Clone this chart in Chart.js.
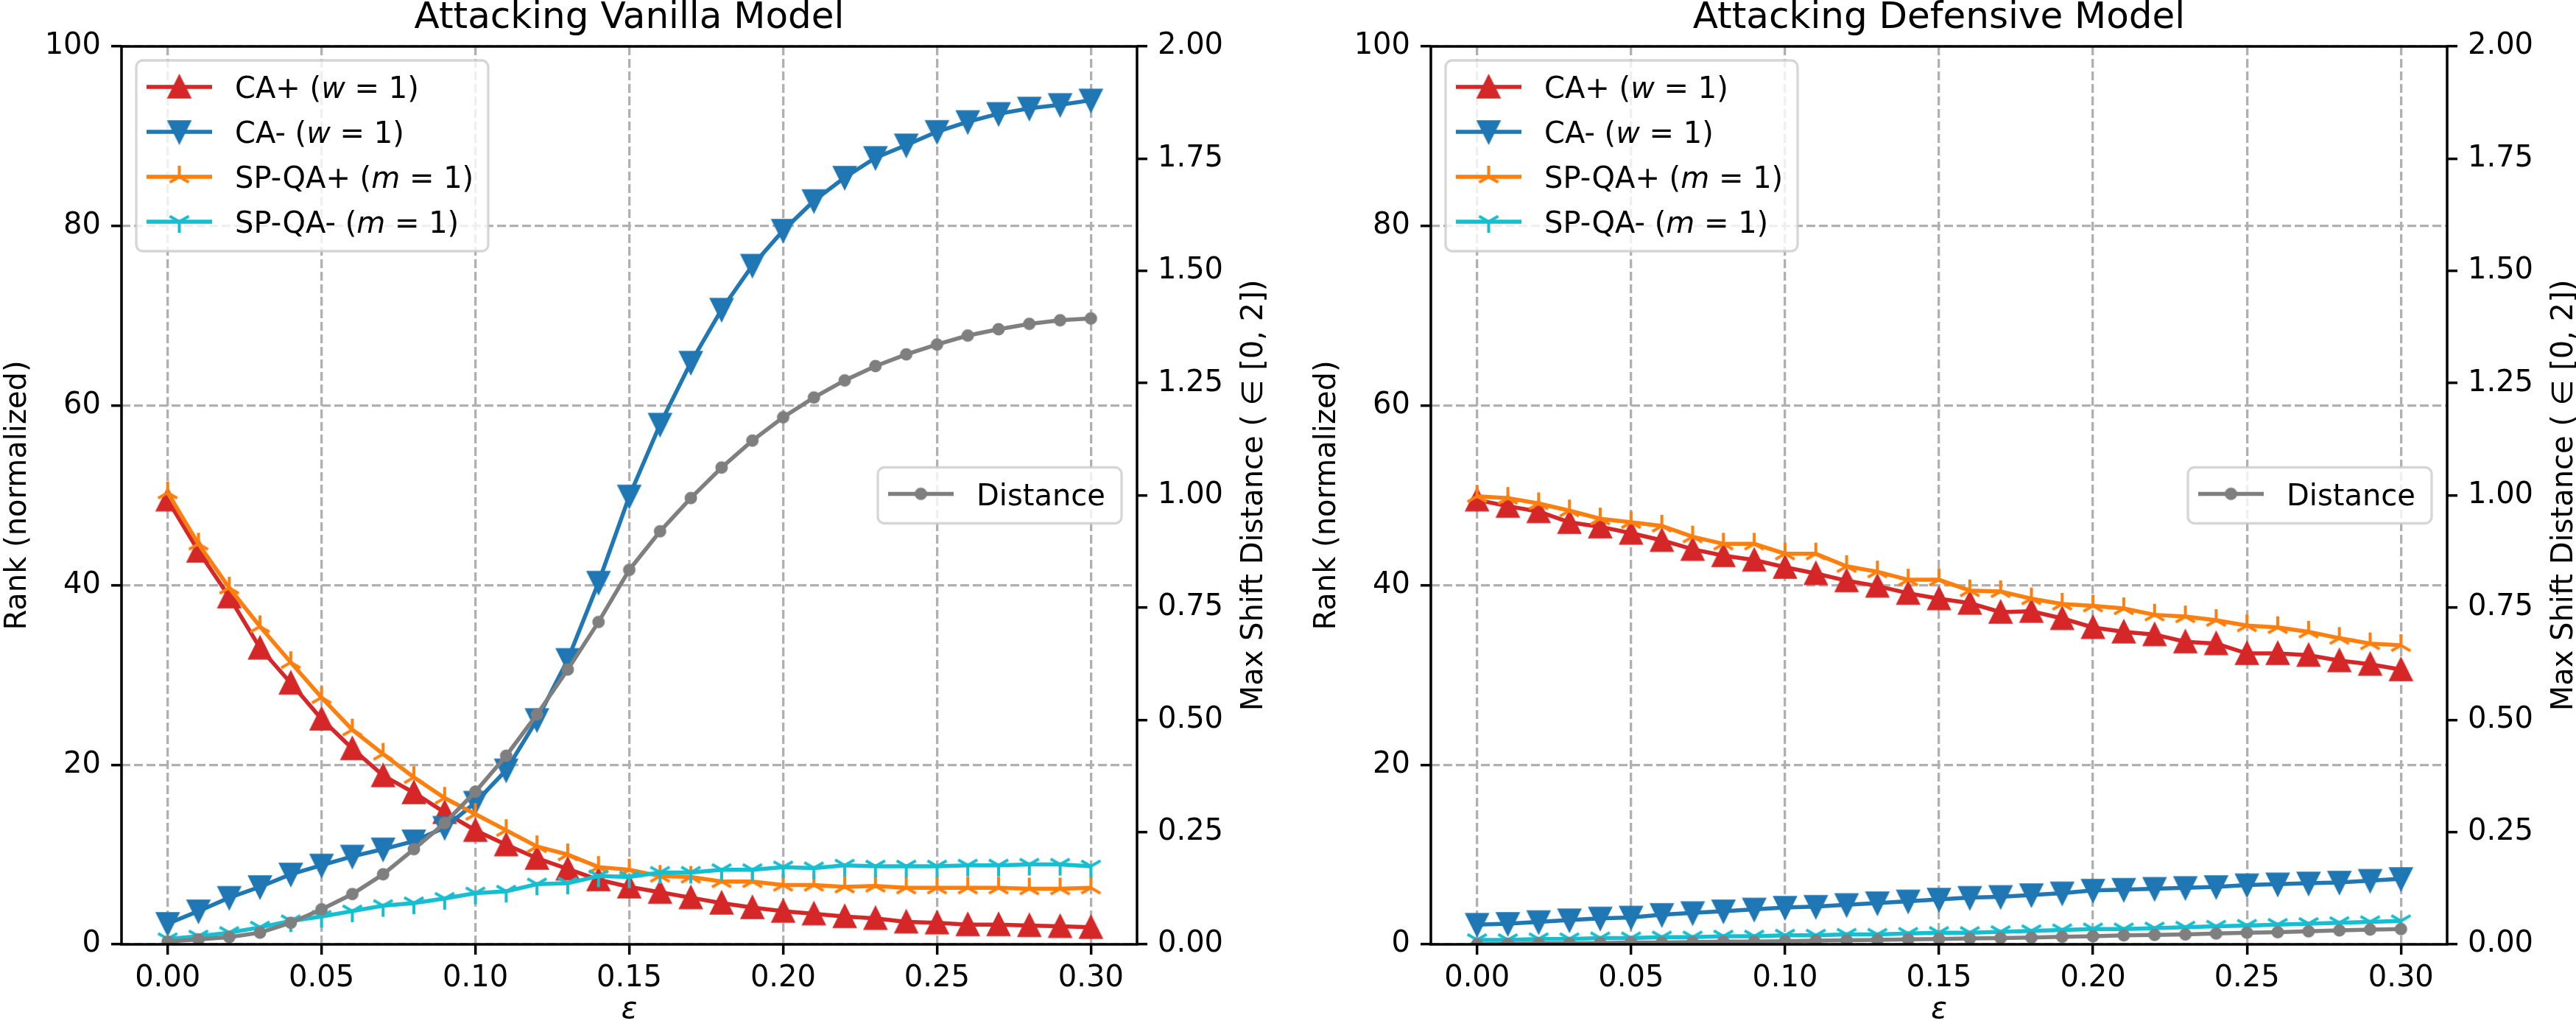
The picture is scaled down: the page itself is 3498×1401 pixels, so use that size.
<!DOCTYPE html>
<html>
<head>
<meta charset="utf-8">
<script src="https://cdn.jsdelivr.net/npm/chart.js@4.4.1/dist/chart.umd.min.js"></script>
<style>
  html, body { margin: 0; padding: 0; background: #fff; }
  #wrap { position: relative; width: 3498px; height: 1401px; overflow: hidden; }
  canvas { position: absolute; top: 0; }
  #vanilla { left: 0; }
  #defensive { left: 1750px; }
</style>
</head>
<body>
<div id="wrap">
  <canvas id="vanilla" width="1750" height="1401"></canvas>
  <canvas id="defensive" width="1748" height="1401"></canvas>
</div>
<script>
// x values (epsilon) and tick labels
const eps = [0.00, 0.01, 0.02, 0.03, 0.04, 0.05, 0.06, 0.07, 0.08, 0.09, 0.10, 0.11, 0.12, 0.13, 0.14, 0.15,
  0.16, 0.17, 0.18, 0.19, 0.20, 0.21, 0.22, 0.23, 0.24, 0.25, 0.26, 0.27, 0.28, 0.29, 0.30]
const xTicks = [0.00, 0.05, 0.10, 0.15, 0.20, 0.25, 0.30]
const rankTicks = [0, 20, 40, 60, 80, 100]
const distTicks = [0, 0.25, 0.5, 0.75, 1.0, 1.25, 1.5, 1.75, 2.0]

// left panel: vanilla model
const caPlusVanilla = [49.5, 43.8, 38.7, 33.0, 29.1, 25.1, 21.8, 18.8, 16.9, 14.7, 12.7, 11.1, 9.6, 8.4, 7.2, 6.4,
  5.8, 5.2, 4.6, 4.1, 3.7, 3.4, 3.1, 2.9, 2.5, 2.4, 2.2, 2.2, 2.1, 2.0, 1.9]
const caMinusVanilla = [2.3, 3.7, 5.2, 6.4, 7.8, 8.8, 9.8, 10.6, 11.5, 13.0, 15.8, 19.4, 25.0, 31.7, 40.3, 49.9,
  57.9, 64.8, 70.7, 75.6, 79.5, 82.8, 85.4, 87.6, 89.0, 90.5, 91.6, 92.5, 93.1, 93.5, 94.0]
const spqaPlusVanilla = [50.3, 44.6, 39.7, 35.4, 31.4, 27.5, 23.9, 21.2, 18.6, 16.3, 14.5, 12.7, 10.9, 10.0, 8.6, 8.3,
  7.6, 7.5, 7.0, 7.0, 6.6, 6.6, 6.4, 6.5, 6.3, 6.3, 6.3, 6.3, 6.2, 6.2, 6.3]
const spqaMinusVanilla = [0.6, 0.9, 1.3, 1.9, 2.6, 3.1, 3.7, 4.3, 4.6, 5.1, 5.7, 5.9, 6.7, 6.8, 7.6, 7.5,
  8.0, 8.0, 8.3, 8.3, 8.6, 8.5, 8.8, 8.7, 8.7, 8.7, 8.8, 8.8, 8.9, 8.9, 8.7]
const distVanilla = [0.006, 0.011, 0.016, 0.026, 0.048, 0.078, 0.112, 0.156, 0.212, 0.270, 0.340, 0.420, 0.512, 0.612, 0.718, 0.834,
  0.920, 0.994, 1.062, 1.122, 1.174, 1.218, 1.256, 1.288, 1.314, 1.336, 1.356, 1.370, 1.382, 1.390, 1.394]

// right panel: defensive model
const caPlusDefensive = [49.5, 48.8, 48.2, 47.0, 46.5, 45.8, 45.0, 44.0, 43.3, 42.8, 42.0, 41.3, 40.5, 39.9, 39.1, 38.5,
  38.0, 37.0, 37.1, 36.3, 35.3, 34.8, 34.5, 33.7, 33.5, 32.4, 32.4, 32.2, 31.6, 31.2, 30.6]
const caMinusDefensive = [2.2, 2.3, 2.5, 2.7, 2.9, 3.0, 3.3, 3.5, 3.7, 3.9, 4.1, 4.2, 4.4, 4.6, 4.8, 5.0,
  5.2, 5.3, 5.5, 5.7, 6.0, 6.1, 6.2, 6.3, 6.4, 6.6, 6.7, 6.8, 6.9, 7.1, 7.3]
const spqaPlusDefensive = [49.9, 49.7, 49.1, 48.3, 47.4, 47.0, 46.6, 45.4, 44.6, 44.6, 43.5, 43.5, 42.1, 41.5, 40.6, 40.6,
  39.4, 39.3, 38.5, 37.9, 37.7, 37.4, 36.7, 36.5, 36.1, 35.5, 35.3, 34.8, 34.1, 33.5, 33.3]
const spqaMinusDefensive = [0.5, 0.5, 0.6, 0.6, 0.7, 0.7, 0.8, 0.8, 0.9, 0.9, 1.0, 1.0, 1.1, 1.1, 1.2, 1.3,
  1.3, 1.4, 1.5, 1.6, 1.7, 1.7, 1.8, 1.9, 2.0, 2.1, 2.2, 2.3, 2.4, 2.5, 2.6]
const distDefensive = [0.000, 0.001, 0.002, 0.002, 0.003, 0.004, 0.004, 0.005, 0.006, 0.006, 0.007, 0.008, 0.009, 0.010, 0.011, 0.012,
  0.013, 0.014, 0.015, 0.017, 0.018, 0.020, 0.021, 0.022, 0.024, 0.026, 0.027, 0.029, 0.031, 0.033, 0.034]

const names = ['CA+', 'CA-', 'SP-QA+', 'SP-QA-']
const params = ['w', 'w', 'm', 'm']
const colors = ['#d62728', '#1f77b4', '#ff7f0e', '#17becf']
const markerKinds = ['up', 'down', 'tri_up', 'tri_down']
const distColor = '#7f7f7f'

const FONT = "'DejaVu Sans', sans-serif"
Chart.defaults.font.family = FONT
Chart.defaults.font.size = 40
Chart.defaults.color = '#000'

/**
 * matplotlib-like markers drawn into small canvases, used as pointStyle
 */
const makeMarker = (kind, color) => {
  const c = document.createElement('canvas')
  c.width = 40
  c.height = 40
  const ctx = c.getContext('2d')
  ctx.translate(20, 20)
  ctx.fillStyle = color
  ctx.strokeStyle = color
  ctx.lineWidth = 3.5
  if (kind === 'up' || kind === 'down') {
    const s = kind === 'up' ? 1 : -1
    ctx.beginPath()
    ctx.moveTo(0, -14 * s)
    ctx.lineTo(-14, 14 * s)
    ctx.lineTo(14, 14 * s)
    ctx.closePath()
    ctx.fill()
    ctx.stroke()
  } else if (kind === 'tri_up' || kind === 'tri_down') {
    const s = kind === 'tri_up' ? 1 : -1
    ctx.lineWidth = 4
    ctx.beginPath()
    ctx.moveTo(0, 0); ctx.lineTo(0, -15 * s)
    ctx.moveTo(0, 0); ctx.lineTo(-13, 7.5 * s)
    ctx.moveTo(0, 0); ctx.lineTo(13, 7.5 * s)
    ctx.stroke()
  } else {
    ctx.beginPath()
    ctx.arc(0, 0, 8.5, 0, Math.PI * 2)
    ctx.fill()
  }
  return c
}

// text with an italic piece in the middle, like "CA+ ($w=1$)"
const drawRich = (ctx, x, y, parts) => {
  let cx = x
  parts.forEach(([t, it]) => {
    ctx.font = `${it ? 'italic ' : ''}40px ${FONT}`
    ctx.fillText(t, cx, y)
    cx += ctx.measureText(t).width
  })
}

const drawLegend = (ctx, x, y, w, h, rows) => {
  ctx.save()
  ctx.beginPath()
  ctx.roundRect(x, y, w, h, 9)
  ctx.fillStyle = 'rgba(255,255,255,0.8)'
  ctx.fill()
  ctx.lineWidth = 3.3
  ctx.strokeStyle = 'rgba(204,204,204,0.8)'
  ctx.stroke()
  ctx.textAlign = 'left'
  ctx.textBaseline = 'alphabetic'
  rows.forEach((r) => {
    const ry = y + r.dy
    ctx.strokeStyle = r.color
    ctx.lineWidth = 5.5
    ctx.beginPath()
    ctx.moveTo(x + 14, ry)
    ctx.lineTo(x + 103, ry)
    ctx.stroke()
    ctx.drawImage(r.marker, x + 58.5 - 20, ry - 20)
    ctx.fillStyle = '#000'
    drawRich(ctx, x + 134, ry + 15, r.parts)
  })
  ctx.restore()
}

const decorate = {
  id: 'decorate',
  afterDatasetsDraw(chart, args, o) {
    const { ctx, chartArea: a } = chart
    const cx = (a.left + a.right) / 2
    const cy = (a.top + a.bottom) / 2

    // box around the axes
    ctx.save()
    ctx.strokeStyle = '#000'
    ctx.lineWidth = 3.5
    ctx.strokeRect(a.left, a.top, a.right - a.left, a.bottom - a.top)
    ctx.restore()

    drawLegend(ctx, a.left + 20, a.top + 19, 478, 259, o.rows)
    drawLegend(ctx, a.right - 21 - 331, cy - 38, 331, 76, [o.distRow])

    ctx.save()
    ctx.fillStyle = '#000'
    ctx.textAlign = 'center'
    ctx.textBaseline = 'alphabetic'
    ctx.font = `50px ${FONT}`
    ctx.fillText(o.title, cx, 38)
    ctx.font = `italic 40px ${FONT}`
    ctx.fillText('ε', cx, 1382)
    ctx.font = `40px ${FONT}`
    const labels = [[a.left - 130, 'Rank (normalized)'], [a.right + 170, 'Max Shift Distance ( ∈ [0, 2])']]
    labels.forEach(([x, t]) => {
      ctx.save()
      ctx.translate(x, cy)
      ctx.rotate(-Math.PI / 2)
      ctx.fillText(t, 0, 0)
      ctx.restore()
    })
    ctx.restore()
  }
}

const tickGrid = {
  color: '#b0b0b0',
  lineWidth: 3.3,
  tickColor: '#000',
  tickLength: 14,
  tickWidth: 3.5,
  tickBorderDash: []
}

const makeChart = (id, title, rankSeries, distSeries, leftW, rightW) => {
  const markers = markerKinds.map((k, i) => makeMarker(k, colors[i]))
  const distMarker = makeMarker('dot', distColor)

  const datasets = rankSeries.map((vals, i) => ({
    label: names[i],
    data: eps.map((e, j) => ({ x: e, y: vals[j] })),
    yAxisID: 'y',
    borderColor: colors[i],
    backgroundColor: colors[i],
    borderWidth: 5.5,
    pointStyle: markers[i],
    pointRadius: 8,
    pointHoverRadius: 8,
    tension: 0,
    order: 5 - i // later series on top, like matplotlib
  }))
  datasets.push({
    label: 'Distance',
    data: eps.map((e, j) => ({ x: e, y: distSeries[j] })),
    yAxisID: 'y2',
    borderColor: distColor,
    backgroundColor: distColor,
    borderWidth: 5.5,
    pointStyle: distMarker,
    pointRadius: 8,
    pointHoverRadius: 8,
    tension: 0,
    order: 0
  })

  const rows = names.map((n, i) => ({
    dy: 36 + i * 61,
    color: colors[i],
    marker: markers[i],
    parts: [[`${n} (`, false], [params[i], true], [' = 1)', false]]
  }))
  const distRow = { dy: 36, color: distColor, marker: distMarker, parts: [['Distance', false]] }

  const canvas = document.getElementById(id)
  return new Chart(canvas.getContext('2d'), {
    type: 'line',
    data: { datasets },
    plugins: [decorate],
    options: {
      responsive: false,
      maintainAspectRatio: false,
      devicePixelRatio: 1,
      animation: false,
      events: [],
      layout: { padding: { top: 63, left: 0, right: 0, bottom: 0 }, autoPadding: false },
      plugins: {
        legend: { display: false },
        tooltip: { enabled: false },
        title: { display: false },
        decorate: { title, rows, distRow }
      },
      scales: {
        x: {
          type: 'linear',
          min: -0.015,
          max: 0.315,
          afterBuildTicks: (s) => { s.ticks = xTicks.map((v) => ({ value: v })) },
          afterFit: (s) => { s.height = 119 },
          ticks: { callback: (v) => v.toFixed(2), padding: 9, maxRotation: 0, autoSkip: false },
          grid: tickGrid,
          border: { display: false, dash: [12, 5] }
        },
        y: {
          position: 'left',
          min: 0,
          max: 100,
          afterBuildTicks: (s) => { s.ticks = rankTicks.map((v) => ({ value: v })) },
          afterFit: (s) => { s.width = leftW },
          ticks: { padding: 14 },
          grid: tickGrid,
          border: { display: false, dash: [12, 5] }
        },
        y2: {
          position: 'right',
          min: 0,
          max: 2,
          afterBuildTicks: (s) => { s.ticks = distTicks.map((v) => ({ value: v })) },
          afterFit: (s) => { s.width = rightW },
          ticks: { callback: (v) => v.toFixed(2), padding: 14 },
          grid: { ...tickGrid, drawOnChartArea: false },
          border: { display: false }
        }
      }
    }
  })
}

makeChart('vanilla', 'Attacking Vanilla Model',
  [caPlusVanilla, caMinusVanilla, spqaPlusVanilla, spqaMinusVanilla], distVanilla, 165, 206)
makeChart('defensive', 'Attacking Defensive Model',
  [caPlusDefensive, caMinusDefensive, spqaPlusDefensive, spqaMinusDefensive], distDefensive, 193, 175)
</script>
</body>
</html>
